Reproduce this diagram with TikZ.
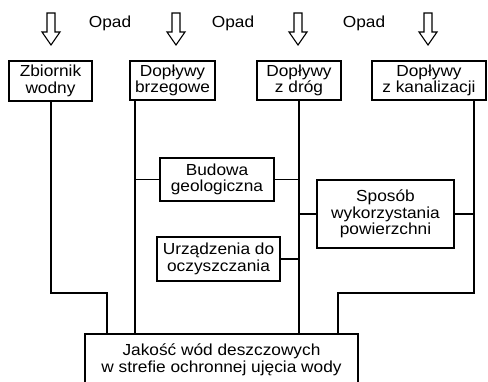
\documentclass[tikz,border=0pt]{standalone}
\usepackage{fontspec}
\setmainfont{Liberation Sans}[FakeStretch=1.08]
\begin{document}
\begin{tikzpicture}[x=0.5pt,y=-0.5pt,
  boxtxt/.style={font=\fontsize{8}{8.3}\selectfont, align=center, inner sep=0pt},
  box/.style={boxtxt, draw, line width=0.95pt},
  conn/.style={line width=0.55pt},
  lbl/.style={font=\fontsize{8}{8.3}\selectfont, inner sep=0pt, anchor=base},
  rainarrow/.pic={\draw[line width=0.55pt, fill=white] (-4,13) -- (-4,32) -- (-9,32) -- (0,45) -- (9,32) -- (4,32) -- (4,13) -- cycle;}
]
\clip (0,0) rectangle (488,381);
\fill[white] (0,0) rectangle (488,381);

% rain arrows and labels
\pic at (51,0) {rainarrow};
\pic at (176,0) {rainarrow};
\pic at (298,0) {rainarrow};
\pic at (428,0) {rainarrow};
\node[lbl] (o1) at (110,27) {Opad};
\node[lbl] (o2) at (233,27) {Opad};
\node[lbl] (o3) at (364,27) {Opad};

% boxes
\node[box, minimum width=41.5pt, minimum height=20pt] (zb) at (50.5,81) {Zbiornik\\wodny};
\node[box, minimum width=42.5pt, minimum height=19.5pt] (br) at (172.5,80.5) {Dopływy\\brzegowe};
\node[box, minimum width=42pt, minimum height=19.5pt] (zd) at (299,80.5) {Dopływy\\z dróg};
\node[box, minimum width=57pt, minimum height=19.5pt] (kan) at (429,80.5) {Dopływy\\z kanalizacji};
\node[box, minimum width=57pt, minimum height=21.5pt] (bud) at (217,179.5) {Budowa\\geologiczna};
\node[box, minimum width=68.5pt, minimum height=34pt] (spo) at (385.5,214) {Sposób\\wykorzystania\\powierzchni};
\node[box, minimum width=61.5pt, minimum height=22pt] (urz) at (218.5,259) {Urządzenia do\\oczyszczania};
\node[box, minimum width=136.5pt, minimum height=26pt] (jak) at (221.5,360) {Jakość wód deszczowych\\w strefie ochronnej ujęcia wody};

% junction coordinates
\coordinate (a1) at (51,293);
\coordinate (a2) at (107,293);
\coordinate (k1) at (474,293);
\coordinate (k2) at (338,293);

% connectors
\draw[conn] (zb.south -| a1) -- (a1) -- (a2) -- (a2 |- jak.north);
\draw[conn] (br.south -| 135,0) -- (jak.north -| 135,0);
\draw[conn] (zd.south) -- (zd.south |- jak.north);
\draw[conn] (kan.south -| k1) -- (k1) -- (k2) -- (k2 |- jak.north);
\draw[conn] (bud.west) -- (bud.west -| 135,0);
\draw[conn] (bud.east) -- (bud.east -| zd.south);
\draw[conn] (spo.west) -- (spo.west -| zd.south);
\draw[conn] (spo.east) -- (spo.east -| k1);
\draw[conn] (urz.east) -- (urz.east -| zd.south);
\end{tikzpicture}
\end{document}
